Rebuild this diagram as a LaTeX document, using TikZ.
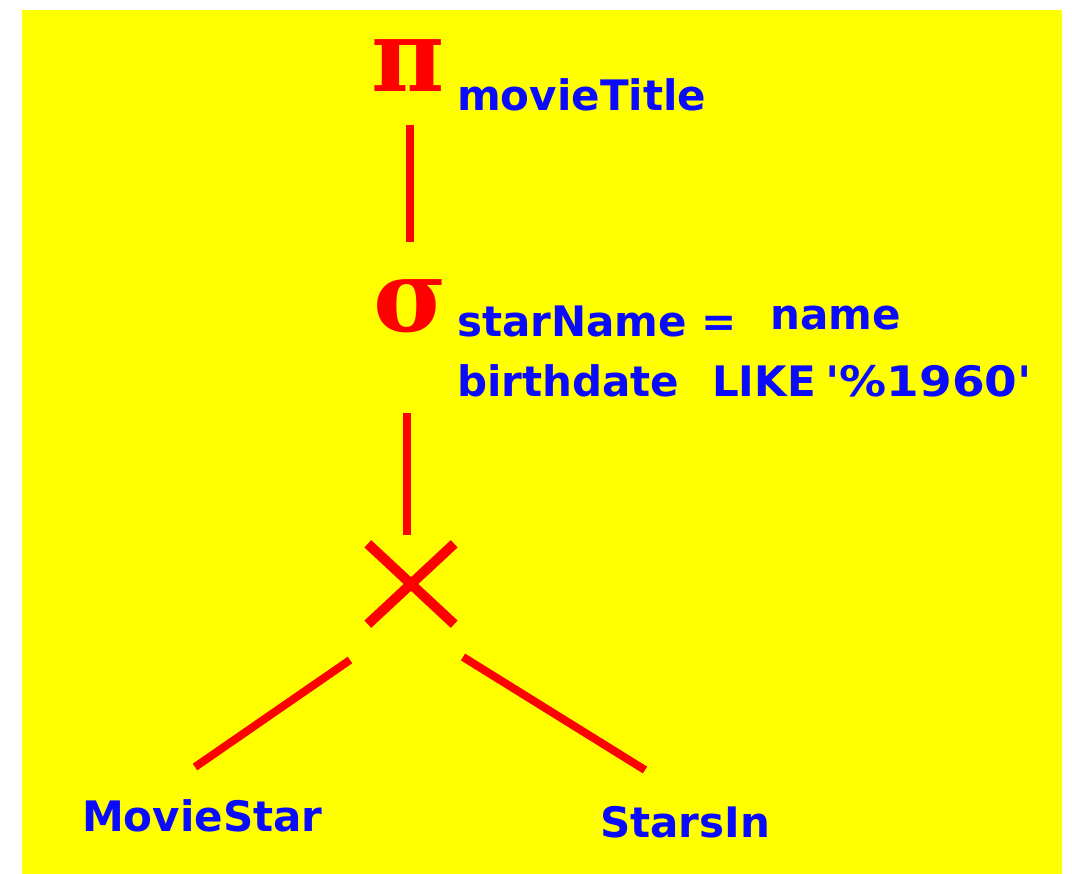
\documentclass[tikz,border=0pt]{standalone}
\usepackage{fontspec}
\setsansfont{DejaVu Sans}
\newfontfamily\grkfont{DejaVu Serif}
\definecolor{bgyellow}{RGB}{255,255,0}
\definecolor{opred}{RGB}{255,0,0}
\definecolor{lblblue}{RGB}{10,10,255}
\begin{document}
\begin{tikzpicture}[x=1pt,y=-1pt,
  lbl/.style={font=\fontsize{42}{42}\selectfont\sffamily\bfseries, text=lblblue, inner sep=0pt, anchor=base west},
  opsym/.style={text=opred, inner sep=2pt, font=\fontsize{100}{100}\selectfont\grkfont\bfseries},
  edge/.style={draw=opred, line width=8pt}]
\useasboundingbox (0,0) rectangle (1072,874);
\fill[white] (0,0) rectangle (1072,874);
\fill[bgyellow] (22,10) rectangle (1062,874);
% operators
\node[opsym, anchor=base] (pi) at (408,92) {π};
\node[opsym, anchor=base] (sigma) at (410,332) {σ};
\node[minimum width=86pt, minimum height=80pt, inner sep=0pt] (cross) at (411,584) {};
\draw[edge, line width=10pt] (cross.north west) -- (cross.south east);
\draw[edge, line width=10pt] (cross.south west) -- (cross.north east);
% labels
\node[lbl] (title) at (457,111) {movieTitle};
\node[lbl] (cond1) at (457,337) {starName =};
\node[lbl] (cond1b) at (770,330) {name};
\node[lbl] (cond2) at (457,397) {birthdate};
\node[lbl] (cond2b) at (712,397) {LIKE};
\node[lbl, xscale=1.12] (cond2c) at (825,397) {\textquotesingle\%1960\textquotesingle};
\node[lbl] (ms) at (82,831) {MovieStar};
\node[lbl] (si) at (600,837) {StarsIn};
% connector ends
\coordinate (pi-out) at (410,125);
\coordinate (sigma-in) at (410,242);
\coordinate (sigma-out) at (407,413);
\coordinate (cross-in) at (407,535);
\coordinate (cross-l) at (350,660);
\coordinate (ms-in) at (195,767);
\coordinate (cross-r) at (463,657);
\coordinate (si-in) at (645,770);
\draw[edge] (pi-out) -- (sigma-in);
\draw[edge] (sigma-out) -- (cross-in);
\draw[edge] (cross-l) -- (ms-in);
\draw[edge] (cross-r) -- (si-in);
\end{tikzpicture}
\end{document}
